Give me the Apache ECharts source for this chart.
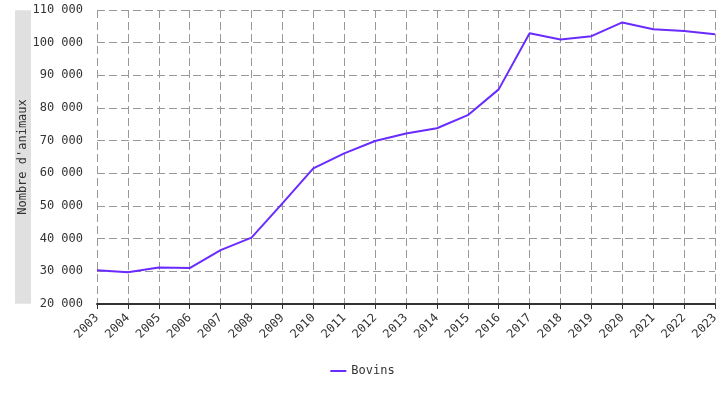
<!DOCTYPE html>
<html><head><meta charset="utf-8">
<script src="https://cdn.jsdelivr.net/npm/echarts@6/dist/echarts.min.js"></script>
<style>html,body{margin:0;padding:0;background:#fff}#c{width:725px;height:400px}</style>
</head><body><div id="c"></div>
<script>
const years = ['2003','2004','2005','2006','2007','2008','2009','2010','2011','2012','2013','2014','2015','2016','2017','2018','2019','2020','2021','2022','2023'];
const bovins = [30300,29700,31200,31000,36500,40300,50800,61500,66100,69900,72200,73800,77800,85700,102900,101000,102000,106200,104100,103600,102600];
const seriesName = 'Bovins';
const yAxisName = "Nombre d'animaux";
const font = 'DejaVu Sans Mono';
const fmt = v => String(v).replace(/\B(?=(\d{3})+(?!\d))/g, ' ');
const chart = echarts.init(document.getElementById('c'));
chart.setOption({
  animation: false,
  textStyle: {fontFamily: font},
  grid: {left: 97, right: 10, top: 10, bottom: 96},
  legend: {bottom: 18, left: 'center', itemWidth: 16, itemHeight: 2, icon: 'rect',
    textStyle: {fontFamily: font, fontSize: 12, color: '#333'}, data: [seriesName]},
  xAxis: {type: 'category', data: years, boundaryGap: false,
    axisLine: {lineStyle: {color: '#333', width: 2}},
    axisTick: {show: true, alignWithLabel: true, length: 5, lineStyle: {color: '#333'}},
    axisLabel: {rotate: 45, fontFamily: font, fontSize: 12, color: '#333', interval: 0, margin: 12},
    splitLine: {show: true, lineStyle: {color: '#999', type: [8, 4]}}},
  yAxis: {type: 'value', min: 20000, max: 110000, interval: 10000,
    name: yAxisName, nameLocation: 'middle', nameGap: 66, nameMoveOverlap: false,
    nameTextStyle: {fontFamily: font, fontSize: 12, color: '#333', backgroundColor: '#e0e0e0', padding: [2, 89, 2, 89]},
    axisLine: {show: false}, axisTick: {show: false},
    axisLabel: {formatter: fmt, fontFamily: font, fontSize: 12, color: '#333', margin: 14},
    splitLine: {show: true, lineStyle: {color: '#999', type: [8, 4]}}},
  series: [{name: seriesName, type: 'line', data: bovins, symbol: 'none', showSymbol: false,
    lineStyle: {color: '#6a2bff', width: 2}, itemStyle: {color: '#6a2bff'}}]
});
</script></body></html>
